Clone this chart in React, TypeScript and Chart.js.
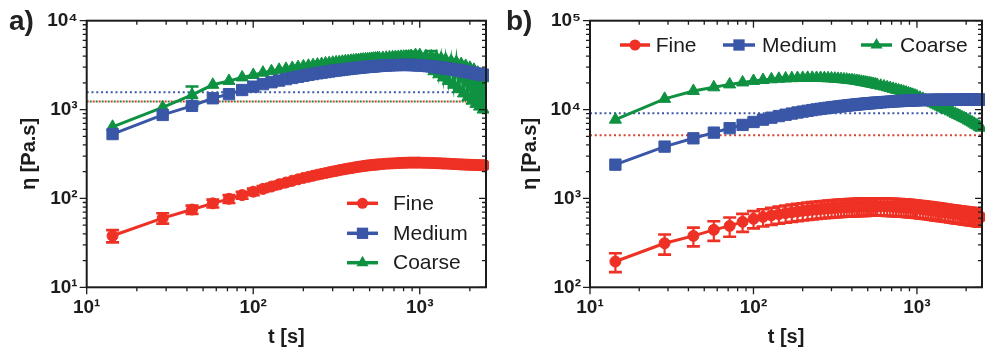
import React, { useEffect, useRef } from 'react';
import { Chart, registerables } from 'chart.js';

Chart.register(...registerables);

const FONT = '"Liberation Sans", Arial, sans-serif';
const INK = '#1c1c1c';
const RED = '#ee3124';
const BLUE = '#3a57a7';
const GREEN = '#0f9142';

// ---------- data ----------
const seriesNames = ['Fine', 'Medium', 'Coarse'];

const times = [
  14.3, 28.6, 42.9, 57.2, 71.5, 85.8, 100.1, 114.4, 128.7, 143,
  157.3, 171.6, 185.9, 200.2, 214.5, 228.8, 243.1, 257.4, 271.7, 286,
  300.3, 314.6, 328.9, 343.2, 357.5, 371.8, 386.1, 400.4, 414.7, 429,
  443.3, 457.6, 471.9, 486.2, 500.5, 514.8, 529.1, 543.4, 557.7, 572,
  600.6, 629.2, 657.8, 686.4, 715, 743.6, 772.2, 800.8, 829.4, 858,
  886.6, 915.2, 943.8, 972.4, 1001, 1043.9, 1086.8, 1129.7, 1172.6, 1215.5,
  1258.4, 1301.3, 1344.2, 1387.1, 1430, 1487.2, 1544.4, 1601.6, 1658.8, 1716,
  1773.2, 1830.4, 1887.6, 1944.8, 2002, 2059.2, 2116.4, 2173.6, 2230.8, 2288,
  2345.2, 2402.4, 2459.6,
];

// panel a
const fineA = [
  38, 60, 75, 88, 99, 109, 119, 128, 136, 144,
  151, 158, 164, 170, 175, 180, 185, 189, 193, 197,
  201, 204, 208, 211, 214, 217, 219, 222, 225, 227,
  229, 231, 233, 235, 236, 238, 239, 240, 241, 242,
  244, 246, 247, 248, 249, 250, 251, 252, 252, 253,
  253, 253, 253, 253, 253, 252, 252, 251, 251, 250,
  249, 249, 248, 247, 247, 246, 245, 244, 243, 242,
  241, 241, 240, 240, 239, 239, 238, 238, 237, 237,
  236, 236, 236,
];
const fineAErr = [6, 8, 8, 9, 10, 10, 10, 10, 10, 10, 11, 11];

const mediumA = [
  530, 870, 1100, 1340, 1490, 1660, 1810, 1930, 2030, 2120,
  2200, 2270, 2340, 2400, 2460, 2510, 2560, 2600, 2640, 2680,
  2720, 2750, 2780, 2810, 2840, 2860, 2890, 2910, 2930, 2950,
  2970, 2990, 3010, 3020, 3040, 3050, 3060, 3080, 3090, 3100,
  3120, 3130, 3150, 3160, 3170, 3170, 3180, 3180, 3180, 3180,
  3170, 3170, 3160, 3150, 3140, 3120, 3100, 3080, 3060, 3030,
  3010, 2980, 2960, 2930, 2910, 2880, 2850, 2820, 2790, 2760,
  2730, 2700, 2670, 2640, 2620, 2590, 2570, 2540, 2520, 2500,
  2480, 2460, 2450,
];

const coarseA = [
  640, 1060, 1460, 1900, 2100, 2300, 2450, 2600, 2700, 2800,
  2870, 2940, 3000, 3060, 3110, 3160, 3210, 3250, 3300, 3330,
  3370, 3400, 3430, 3460, 3490, 3510, 3540, 3560, 3590, 3610,
  3630, 3650, 3670, 3690, 3700, 3720, 3740, 3750, 3770, 3780,
  3810, 3830, 3860, 3880, 3900, 3910, 3930, 3940, 3950, 3960,
  4000, 3650, 4100, 3450, 4100, 3200, 4000, 2950, 3950, 2700,
  3850, 2500, 3750, 2300, 3650, 2100, 3500, 1900, 3400, 1700,
  3250, 1520, 3100, 1380, 2950, 1260, 2800, 1160, 2600, 1080,
  2450, 1000, 2250,
];
const coarseAErr = [
  0, 0, 360, 0, 0, 0, 0, 0, 0, 0,
  0, 0, 0, 0, 0, 0, 0, 0, 0, 0,
  0, 0, 0, 0, 0, 0, 0, 0, 0, 0,
  0, 0, 0, 0, 0, 0, 0, 0, 0, 0,
  0, 0, 0, 0, 0, 0, 0, 0, 0, 0,
  500, 0, 0, 0, 0, 0, 0, 0, 600,
];

// horizontal dotted guides, panel a: Medium, Fine, Coarse
const guidesA = [1570, 1230, 1230];
const guidesAEnd = 1900;

// panel b
const fineB = [
  195, 313, 379, 443, 491, 545, 590, 620, 645, 665,
  683, 698, 712, 724, 735, 745, 753, 761, 768, 774,
  780, 785, 790, 794, 798, 801, 804, 807, 809, 811,
  813, 815, 816, 817, 818, 819, 819, 820, 820, 820,
  819, 818, 816, 814, 811, 808, 805, 801, 798, 794,
  790, 786, 782, 777, 773, 766, 760, 753, 746, 740,
  733, 727, 721, 715, 709, 702, 695, 688, 682, 676,
  670, 665, 660, 655, 650, 645, 641, 637, 633, 629,
  625, 622, 618,
];
const fineBErr = [
  47, 80, 90, 110, 120, 125, 130, 136, 142, 146,
  150, 153, 157, 159, 162, 164, 166, 167, 169, 170,
  172, 173, 174, 175, 176, 176, 177, 178, 178, 178,
  179, 179, 180, 180, 180, 180, 180, 180, 180, 180,
  180, 180, 180, 179, 178, 178, 177, 176, 176, 175,
  174, 173, 172, 171, 170, 169, 167, 166, 164, 163,
  161, 160, 159, 157, 156, 154, 153, 151, 150, 149,
  147, 146, 145, 144, 143, 142, 141, 140, 139, 138,
  138, 137, 136,
];

const mediumB = [
  2400, 3830, 4750, 5500, 6170, 6720, 7250, 7700, 8100, 8450,
  8750, 9020, 9270, 9490, 9690, 9870, 10040, 10190, 10330, 10460,
  10580, 10690, 10800, 10900, 11000, 11090, 11180, 11260, 11340, 11410,
  11480, 11550, 11610, 11670, 11730, 11780, 11830, 11880, 11930, 11970,
  12060, 12140, 12210, 12280, 12340, 12400, 12450, 12500, 12540, 12580,
  12620, 12650, 12680, 12710, 12740, 12770, 12800, 12820, 12840, 12860,
  12870, 12880, 12890, 12900, 12900, 12910, 12910, 12920, 12920, 12920,
  12930, 12930, 12930, 12930, 12940, 12940, 12940, 12940, 12940, 12950,
  12950, 12950, 12950,
];

const coarseB = [
  7700, 13200, 16200, 17800, 19200, 20200, 21000, 21500, 21900, 22200,
  22400, 22550, 22650, 22700, 22750, 22750, 22700, 22680, 22600, 22500,
  22400, 22280, 22150, 22000, 21850, 21700, 21500, 21380, 21200, 21000,
  20800, 20550, 20350, 20150, 19950, 19750, 19550, 19350, 19150, 18950,
  18550, 18200, 17800, 17450, 17100, 16750, 16450, 16150, 15850, 15550,
  15250, 14950, 14650, 14350, 14050, 13600, 13200, 12800, 12400, 12050,
  11750, 11400, 11100, 10800, 10500, 10150, 9850, 9550, 9250, 8950,
  8700, 8450, 8200, 8000, 7800, 7550, 7350, 7150, 6950, 6750,
  6600, 6400, 6250,
];

// horizontal dotted guides, panel b: Medium, Fine
const guidesB = [9100, 5150];

// ---------- axes ----------
const xMin = 10;
const xMax = 2500;
const xTicks = [10, 20, 30, 40, 50, 60, 70, 80, 90, 100, 200, 300, 400, 500, 600, 700, 800, 900, 1000, 2000];
const xMajor = [10, 100, 1000];
const xLabels = ['10¹', '10²', '10³'];

const yTicksA = [
  10, 20, 30, 40, 50, 60, 70, 80, 90,
  100, 200, 300, 400, 500, 600, 700, 800, 900,
  1000, 2000, 3000, 4000, 5000, 6000, 7000, 8000, 9000, 10000,
];
const yMajorA = [10, 100, 1000, 10000];
const yLabelsA = ['10¹', '10²', '10³', '10⁴'];

const yTicksB = [
  100, 200, 300, 400, 500, 600, 700, 800, 900,
  1000, 2000, 3000, 4000, 5000, 6000, 7000, 8000, 9000,
  10000, 20000, 30000, 40000, 50000, 60000, 70000, 80000, 90000, 100000,
];
const yMajorB = [100, 1000, 10000, 100000];
const yLabelsB = ['10²', '10³', '10⁴', '10⁵'];

// ---------- plugins ----------
function isMajor(v: number) {
  const l = Math.log10(v);
  return Math.abs(l - Math.round(l)) < 1e-9;
}

const frameTicksPlugin = {
  id: 'frameTicks',
  afterDatasetsDraw(chart: any) {
    const { ctx, chartArea } = chart;
    const { left, right, top, bottom } = chartArea;
    const xs = chart.scales.x;
    const ys = chart.scales.y;
    ctx.save();
    ctx.strokeStyle = INK;
    ctx.lineWidth = 1.3;
    ctx.beginPath();
    for (const t of xs.ticks) {
      const px = xs.getPixelForValue(t.value);
      if (px < left - 0.5 || px > right + 0.5) continue;
      const L = isMajor(t.value) ? 7 : 4;
      ctx.moveTo(px, bottom);
      ctx.lineTo(px, bottom + L);
      ctx.moveTo(px, top);
      ctx.lineTo(px, top + L);
    }
    for (const t of ys.ticks) {
      const py = ys.getPixelForValue(t.value);
      if (py < top - 0.5 || py > bottom + 0.5) continue;
      const L = isMajor(t.value) ? 7 : 4;
      ctx.moveTo(left, py);
      ctx.lineTo(left - L, py);
      ctx.moveTo(right, py);
      ctx.lineTo(right - L, py);
    }
    ctx.stroke();
    ctx.lineWidth = 2;
    ctx.strokeRect(left, top, right - left, bottom - top);
    ctx.restore();
  },
};

const errorBarsPlugin = {
  id: 'errorBars',
  beforeDatasetDraw(chart: any, args: any) {
    const ds = chart.data.datasets[args.index];
    if (!ds.errors) return;
    const { ctx, chartArea } = chart;
    const ys = chart.scales.y;
    const meta = args.meta;
    ctx.save();
    ctx.beginPath();
    ctx.rect(chartArea.left, chartArea.top, chartArea.right - chartArea.left, chartArea.bottom - chartArea.top);
    ctx.clip();
    ctx.strokeStyle = ds.borderColor;
    for (let i = 0; i < meta.data.length; i++) {
      const e = ds.errors[i];
      if (!e) continue;
      const v = ds.data[i].y;
      const x = meta.data[i].x;
      const yTop = ys.getPixelForValue(v + e);
      const yBot = ys.getPixelForValue(Math.max(v - e, 1e-9));
      const cap = 6.5;
      ctx.lineWidth = 2.2;
      ctx.beginPath();
      ctx.moveTo(x, yTop);
      ctx.lineTo(x, yBot);
      ctx.stroke();
      ctx.lineWidth = 2.6;
      ctx.beginPath();
      ctx.moveTo(x - cap, yTop);
      ctx.lineTo(x + cap, yTop);
      ctx.moveTo(x - cap, yBot);
      ctx.lineTo(x + cap, yBot);
      ctx.stroke();
    }
    ctx.restore();
  },
};

function drawMarker(ctx: CanvasRenderingContext2D, style: string, x: number, y: number, r: number) {
  ctx.beginPath();
  if (style === 'circle') {
    ctx.arc(x, y, r, 0, Math.PI * 2);
  } else if (style === 'rect') {
    const s = r * Math.SQRT1_2;
    ctx.rect(x - s, y - s, 2 * s, 2 * s);
  } else {
    ctx.moveTo(x, y - r);
    ctx.lineTo(x + 0.866 * r, y + 0.5 * r);
    ctx.lineTo(x - 0.866 * r, y + 0.5 * r);
    ctx.closePath();
  }
  ctx.fill();
}

const seriesLegendPlugin = {
  id: 'seriesLegend',
  afterDraw(chart: any, _args: any, opts: any) {
    if (!opts || !opts.items) return;
    const { ctx } = chart;
    ctx.save();
    ctx.font = `21px ${FONT}`;
    ctx.textBaseline = 'middle';
    ctx.textAlign = 'left';
    opts.items.forEach((it: any, i: number) => {
      const ds = chart.data.datasets[i];
      ctx.strokeStyle = ds.borderColor;
      ctx.fillStyle = ds.borderColor;
      ctx.lineWidth = 3.5;
      ctx.beginPath();
      ctx.moveTo(it.x1, it.y);
      ctx.lineTo(it.x2, it.y);
      ctx.stroke();
      drawMarker(ctx, ds.pointStyle, (it.x1 + it.x2) / 2, it.y, ds.pointRadius);
      ctx.fillStyle = INK;
      ctx.fillText(ds.label, it.tx, it.y + 1);
    });
    ctx.restore();
  },
};

// ---------- config ----------
type PanelSpec = {
  fine: number[];
  fineErr: number[];
  medium: number[];
  coarse: number[];
  coarseErr?: number[];
  guides: { value: number; color: string; end: number; offset: number; dash: number[] }[];
  yMin: number;
  yMax: number;
  yTicks: number[];
  yMajor: number[];
  yLabels: string[];
  yAxisWidth: number;
  yTitlePad: number;
  padRight: number;
  legend: { x1: number; x2: number; tx: number; y: number }[];
};

function pts(vals: number[]) {
  return times.map((t, i) => ({ x: t, y: vals[i] }));
}

function buildConfig(p: PanelSpec): any {
  const seriesBase = {
    borderWidth: 3,
    pointBorderWidth: 1,
    tension: 0,
    clip: 3,
  };
  const datasets: any[] = [
    {
      ...seriesBase,
      label: seriesNames[0],
      data: pts(p.fine),
      errors: p.fineErr,
      borderColor: RED,
      backgroundColor: RED,
      pointBackgroundColor: RED,
      pointBorderColor: RED,
      pointStyle: 'circle',
      pointRadius: 5.5,
    },
    {
      ...seriesBase,
      label: seriesNames[1],
      data: pts(p.medium),
      borderColor: BLUE,
      backgroundColor: BLUE,
      pointBackgroundColor: BLUE,
      pointBorderColor: BLUE,
      pointStyle: 'rect',
      pointRadius: 8,
    },
    {
      ...seriesBase,
      label: seriesNames[2],
      data: pts(p.coarse),
      errors: p.coarseErr,
      borderColor: GREEN,
      backgroundColor: GREEN,
      pointBackgroundColor: GREEN,
      pointBorderColor: GREEN,
      pointStyle: 'triangle',
      pointRadius: 7,
    },
  ];
  p.guides.forEach((g) => {
    datasets.push({
      label: '',
      data: [
        { x: xMin, y: g.value },
        { x: g.end, y: g.value },
      ],
      borderColor: g.color,
      borderWidth: 2,
      borderDash: g.dash,
      borderDashOffset: g.offset,
      borderCapStyle: 'butt',
      pointRadius: 0,
      clip: 0,
    });
  });

  return {
    type: 'line',
    data: { datasets },
    plugins: [errorBarsPlugin, frameTicksPlugin, seriesLegendPlugin],
    options: {
      responsive: false,
      animation: false,
      events: [],
      layout: { padding: { left: 0, right: p.padRight, top: 20.7, bottom: 0 } },
      plugins: {
        legend: { display: false },
        tooltip: { enabled: false },
        seriesLegend: { items: p.legend },
      },
      scales: {
        x: {
          type: 'logarithmic',
          min: xMin,
          max: xMax,
          afterBuildTicks: (s: any) => {
            s.ticks = xTicks.map((v) => ({ value: v }));
          },
          afterFit: (s: any) => {
            s.height = 72.7;
          },
          grid: { display: false, drawTicks: true, tickLength: 7 },
          border: { display: false },
          ticks: {
            autoSkip: false,
            maxRotation: 0,
            minRotation: 0,
            padding: 2,
            color: INK,
            font: { family: FONT, size: 19, weight: 'bold' },
            callback: (v: number) => {
              const k = xMajor.indexOf(Number(v));
              return k >= 0 ? xLabels[k] : '';
            },
          },
          title: {
            display: true,
            text: 't [s]',
            color: INK,
            font: { family: FONT, size: 20, weight: 'bold' },
            padding: { top: 0, bottom: 11 },
          },
        },
        y: {
          type: 'logarithmic',
          min: p.yMin,
          max: p.yMax,
          afterBuildTicks: (s: any) => {
            s.ticks = p.yTicks.map((v) => ({ value: v }));
          },
          afterFit: (s: any) => {
            s.width = p.yAxisWidth;
          },
          grid: { display: false, drawTicks: true, tickLength: 6 },
          border: { display: false },
          ticks: {
            autoSkip: false,
            padding: 3,
            color: INK,
            font: { family: FONT, size: 19, weight: 'bold' },
            callback: (v: number) => {
              const k = p.yMajor.indexOf(Number(v));
              return k >= 0 ? p.yLabels[k] : '';
            },
          },
          title: {
            display: true,
            text: 'η [Pa.s]',
            color: INK,
            font: { family: FONT, size: 20, weight: 'bold' },
            padding: { top: p.yTitlePad, bottom: 0 },
          },
        },
      },
    },
  };
}

const panelA: PanelSpec = {
  fine: fineA,
  fineErr: fineAErr,
  medium: mediumA,
  coarse: coarseA,
  coarseErr: coarseAErr,
  guides: [
    { value: guidesA[0], color: BLUE, end: guidesAEnd, offset: 0, dash: [2, 2.8] },
    { value: guidesA[1], color: RED, end: guidesAEnd, offset: 0, dash: [2, 4] },
    { value: guidesA[2], color: GREEN, end: guidesAEnd, offset: 3, dash: [2, 4] },
  ],
  yMin: 10,
  yMax: 10000,
  yTicks: yTicksA,
  yMajor: yMajorA,
  yLabels: yLabelsA,
  yAxisWidth: 86.7,
  yTitlePad: 17.5,
  padRight: 8,
  legend: [
    { x1: 347, x2: 378, tx: 393, y: 203.3 },
    { x1: 347, x2: 378, tx: 393, y: 233.3 },
    { x1: 347, x2: 378, tx: 393, y: 262.7 },
  ],
};

const panelB: PanelSpec = {
  fine: fineB,
  fineErr: fineBErr,
  medium: mediumB,
  coarse: coarseB,
  guides: [
    { value: guidesB[0], color: BLUE, end: xMax, offset: 0, dash: [2, 2.8] },
    { value: guidesB[1], color: '#d8402e', end: xMax, offset: 0, dash: [2, 2.8] },
  ],
  yMin: 100,
  yMax: 100000,
  yTicks: yTicksB,
  yMajor: yMajorB,
  yLabels: yLabelsB,
  yAxisWidth: 95,
  yTitlePad: 23,
  padRight: 1,
  legend: [
    { x1: 125, x2: 155, tx: 160.7, y: 45 },
    { x1: 228, x2: 260, tx: 267, y: 45 },
    { x1: 366, x2: 397, tx: 405, y: 45 },
  ],
};

function Panel({ spec, width }: { spec: PanelSpec; width: number }) {
  const ref = useRef<HTMLCanvasElement>(null);
  useEffect(() => {
    if (!ref.current) return;
    const chart = new Chart(ref.current, buildConfig(spec));
    return () => chart.destroy();
  }, [spec]);
  return <canvas ref={ref} width={width} height={360} style={{ display: 'block', width, height: 360 }} />;
}

const panelLabelStyle: React.CSSProperties = {
  position: 'absolute',
  top: 7,
  font: `bold 28px ${FONT}`,
  lineHeight: '28px',
  color: '#222',
};

export default function App() {
  return (
    <div style={{ position: 'absolute', left: 0, top: 0, width: 991, height: 360, background: '#fff', overflow: 'hidden' }}>
      <div style={{ position: 'absolute', left: 0, top: 0 }}>
        <Panel spec={panelA} width={495} />
      </div>
      <div style={{ position: 'absolute', left: 495, top: 0 }}>
        <Panel spec={panelB} width={496} />
      </div>
      <div style={{ ...panelLabelStyle, left: 9 }}>a)</div>
      <div style={{ ...panelLabelStyle, left: 506 }}>b)</div>
    </div>
  );
}
